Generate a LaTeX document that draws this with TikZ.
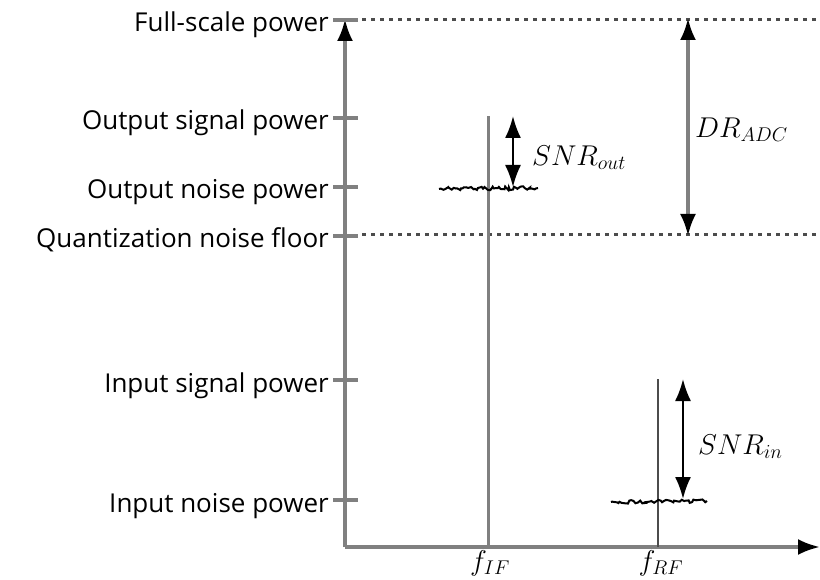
\documentclass[tikz,border=0pt]{standalone}
\usepackage{fontspec}
\setmainfont{Open Sans}
\usetikzlibrary{arrows.meta,decorations.pathmorphing}
\newcommand{\mylabmath}[1]{\scalebox{1.15}{$#1$}}
\begin{document}
\begin{tikzpicture}[x=1pt,y=-1pt,
  axis/.style={draw=black!50,line width=3.5pt},
  tick/.style={draw=black!50,line width=3.5pt},
  dots/.style={draw=black!70,line width=3pt,dash pattern=on 4pt off 5pt},
  tip/.style={-{Latex[length=22pt,width=16pt,fill=black,color=black]}},
  dtip/.style={{Latex[length=22pt,width=16pt,fill=black,color=black]}-{Latex[length=22pt,width=16pt,fill=black,color=black]}},
  noise/.style={draw=black,line width=2pt,decorate,decoration={random steps,segment length=2pt,amplitude=1.8pt}},
  lab/.style={anchor=base east,inner sep=0pt,font=\fontsize{26}{26}\selectfont},
  mlab/.style={inner sep=0pt,font=\fontsize{24}{24}\selectfont}]
\path[use as bounding box] (0,0) rectangle (820,580);
\pgfmathsetseed{7}
% axes
\coordinate (O) at (345,547);
\coordinate (Ytop) at (345,19);
\coordinate (Xend) at (820,547);
\draw[axis,tip] (O) -- (Ytop);
\draw[axis,tip] (O) -- (Xend);
% ticks and labels
\foreach \n/\y/\t in {fs/20/Full-scale power, os/118/Output signal power, on/187/Output noise power, qn/236/Quantization noise floor, is/380/Input signal power, in/500/Input noise power}{
  \coordinate (\n L) at (333,\y);
  \coordinate (\n R) at (358,\y);
  \draw[tick] (\n L) -- (\n R);
  \node[lab] (\n txt) at (329,\y+12) {\t};
}
% dotted lines
\coordinate (d1a) at (362,20); \coordinate (d1b) at (820,20);
\coordinate (d2a) at (362,235); \coordinate (d2b) at (820,235);
\draw[dots] (d1a) -- (d1b);
\draw[dots] (d2a) -- (d2b);
% IF signal
\coordinate (ifb) at (488,547); \coordinate (ift) at (488,116);
\draw[draw=black!50,line width=3pt] (ifb) -- (ift);
\coordinate (n1a) at (439,189); \coordinate (n1b) at (538,188);
\draw[noise] (n1a) -- (n1b);
\coordinate (so1) at (513,116); \coordinate (so2) at (513,187);
\draw[dtip,line width=2.2pt] (so1) -- (so2);
\node[mlab,anchor=west] (snrout) at (532,158) {\mylabmath{SNR_{out}}};
% DR
\coordinate (dr1) at (688,18); \coordinate (dr2) at (688,236);
\draw[dtip,draw=black!50,line width=3.5pt] (dr1) -- (dr2);
\node[mlab,anchor=west] (dr) at (695,130) {\mylabmath{DR_{ADC}}};
% RF signal
\coordinate (rfb) at (658,547); \coordinate (rft) at (658,379);
\draw[draw=black!70,line width=2.2pt] (rfb) -- (rft);
\coordinate (n2a) at (611,502); \coordinate (n2b) at (707,501);
\draw[noise] (n2a) -- (n2b);
\coordinate (si1) at (683,379); \coordinate (si2) at (683,499);
\draw[dtip,line width=2.2pt] (si1) -- (si2);
\node[mlab,anchor=west] (snrin) at (698,447) {\mylabmath{SNR_{in}}};
% x labels
\node[mlab] (fif) at (490,563) {\mylabmath{f_{IF}}};
\node[mlab] (frf) at (661,563) {\mylabmath{f_{RF}}};
\end{tikzpicture}
\end{document}
